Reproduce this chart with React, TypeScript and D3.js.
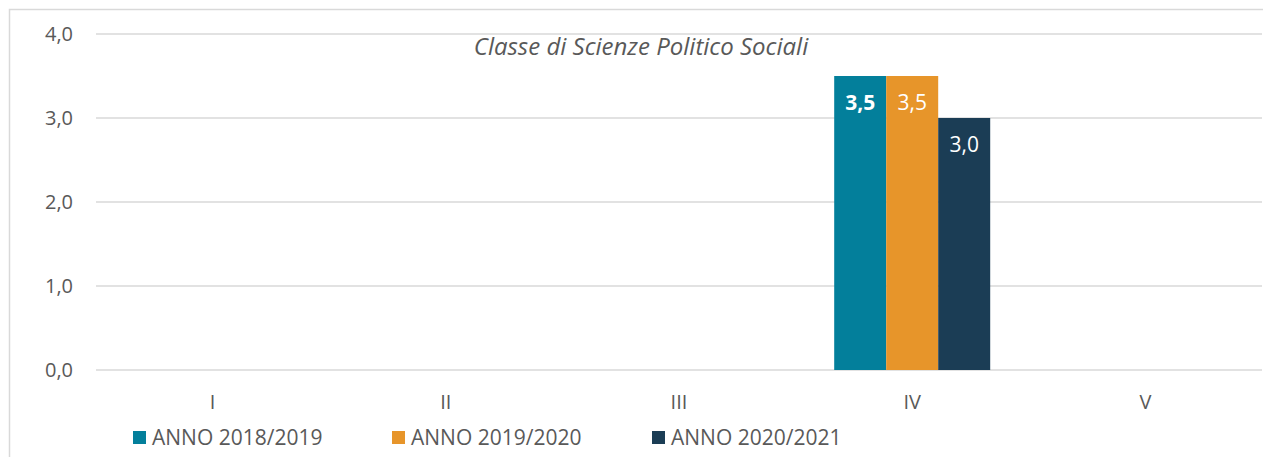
import React from "react";
import * as d3 from "d3";

const categories = ["I", "II", "III", "IV", "V"];
const seriesNames = ["ANNO 2018/2019", "ANNO 2019/2020", "ANNO 2020/2021"];
const series2018: (number | null)[] = [null, null, null, 3.5, null];
const series2019: (number | null)[] = [null, null, null, 3.5, null];
const series2020: (number | null)[] = [null, null, null, 3.0, null];
const yTicks = [0, 1, 2, 3, 4];
const colors = ["#037F9B", "#E7952A", "#1B3D55"];
const title = "Classe di Scienze Politico Sociali";

const W = 1263;
const H = 457;
const FONT = "'Open Sans', sans-serif";

export default function App() {
  const allSeries = [series2018, series2019, series2020];
  const x = d3.scaleBand<string>().domain(categories).range([96, 1262]).paddingInner(0).paddingOuter(0);
  const y = d3.scaleLinear().domain([0, 4]).range([370, 34]);
  const groupW = 156;
  const inner = d3
    .scaleBand<number>()
    .domain([0, 1, 2])
    .range([0, groupW]);
  const fmt = (v: number) => d3.format(".1f")(v).replace(".", ",");

  const legendX = [133, 392, 652];

  return (
    <svg width={W} height={H} style={{ position: "absolute", left: 0, top: 0, background: "#fff" }} fontFamily={FONT}>
      <rect x={9.5} y={9.5} width={W + 10} height={H + 10} fill="#fff" stroke="#d9d9d9" strokeWidth={1.5} />
      {yTicks.map((t) => (
        <g key={t}>
          <line x1={96} x2={1262} y1={y(t)} y2={y(t)} stroke="#d9d9d9" strokeWidth={1.5} />
          <text x={73} y={y(t)} dy="0.35em" textAnchor="end" fontSize={20} fill="#595959">
            {fmt(t)}
          </text>
        </g>
      ))}
      <text x={641} y={47} dy="0.35em" textAnchor="middle" fontSize={24} fontStyle="italic" fill="#595959">
        {title}
      </text>
      {categories.map((c, ci) => {
        const cx = (x(c) as number) + x.bandwidth() / 2;
        return (
          <g key={c}>
            {allSeries.map((s, si) => {
              const v = s[ci];
              if (v == null) return null;
              const bx = cx - groupW / 2 + (inner(si) as number);
              return (
                <g key={si}>
                  <rect x={bx} y={y(v)} width={inner.bandwidth()} height={y(0) - y(v)} fill={colors[si]} />
                  <text
                    x={bx + inner.bandwidth() / 2}
                    y={y(v) + 27}
                    dy="0.35em"
                    textAnchor="middle"
                    fontSize={21}
                    fontWeight={si === 0 ? "bold" : "normal"}
                    fill="#fff"
                  >
                    {fmt(v)}
                  </text>
                </g>
              );
            })}
            <text x={cx} y={402} dy="0.35em" textAnchor="middle" fontSize={20} fill="#595959">
              {c}
            </text>
          </g>
        );
      })}
      {seriesNames.map((n, i) => (
        <g key={n}>
          <rect x={legendX[i]} y={431} width={13} height={13} fill={colors[i]} />
          <text x={legendX[i] + 19} y={438} dy="0.35em" fontSize={21} fill="#595959">
            {n}
          </text>
        </g>
      ))}
    </svg>
  );
}
